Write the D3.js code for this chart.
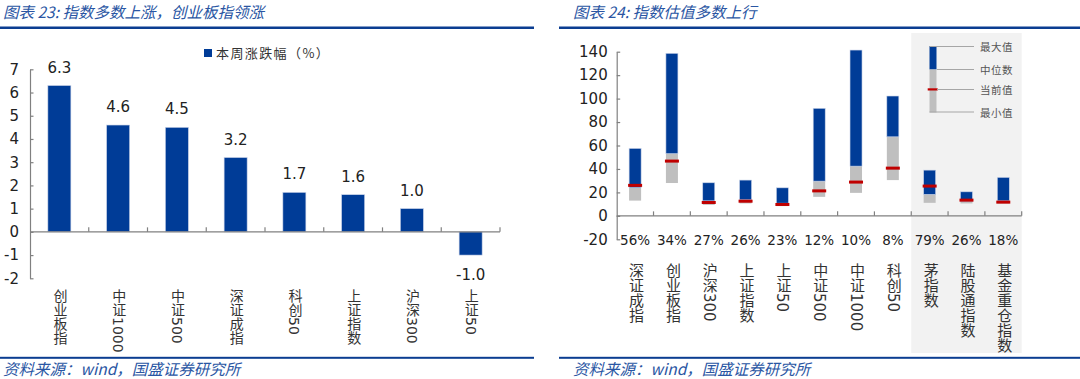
<!DOCTYPE html>
<html>
<head>
<meta charset="utf-8">
<script src="https://cdn.jsdelivr.net/npm/d3@7"></script>
<style>
  body { margin: 0; background: #fff; }
  svg text { font-family: "DejaVu Sans", sans-serif; }
  .cn { font-family: "Noto Sans CJK SC", sans-serif; }
  .vert { writing-mode: vertical-rl; font-family: "DejaVu Sans", "Noto Sans CJK SC", sans-serif; }
</style>
</head>
<body>
<svg id="chart" width="1080" height="379"></svg>
<script>
// ---- left chart data: weekly change (%)
var weekCats = ["创业板指", "中证1000", "中证500", "深证成指", "科创50", "上证指数", "沪深300", "上证50"];
var weekChg = [6.3, 4.6, 4.5, 3.2, 1.7, 1.6, 1.0, -1.0];
var weekTicks = [-2, -1, 0, 1, 2, 3, 4, 5, 6, 7];

// ---- right chart data: valuation range
var valCats = ["深证成指", "创业板指", "沪深300", "上证指数", "上证50", "中证500", "中证1000", "科创50", "茅指数", "陆股通指数", "基金重仓指数"];
var valPct = ["56%", "34%", "27%", "26%", "23%", "12%", "10%", "8%", "79%", "26%", "18%"];
var valMin = [13, 28, 9.4, 10.6, 8.3, 16.2, 19.6, 30.5, 11.1, 10.6, 10.6];
var valMed = [24, 53, 12.8, 13.7, 10.8, 29.6, 42.4, 67.4, 18.3, 12.3, 12.8];
var valMax = [57.5, 138.6, 28.2, 30.5, 23.9, 91.7, 141.4, 102.2, 39, 20.5, 32.8];
var valCur = [26, 46.7, 11.4, 12.5, 9.7, 21.3, 28.8, 40.7, 25.4, 13.4, 11.7];
var valTicks = [-20, 0, 20, 40, 60, 80, 100, 120, 140];

var BLUE = "#003c97", GREY = "#bfbfbf", RED = "#c00000", AXIS = "#808080", TITLE = "#2a56a3";

var svg = d3.select("#chart");

// titles, rules and source lines
function frame(x0, x1, tx, title) {
  svg.append("text").attr("class", "cn").attr("x", tx).attr("y", 17.5)
    .attr("font-size", 15.5).attr("font-style", "italic").attr("fill", TITLE).text(title);
  svg.append("rect").attr("x", x0).attr("y", 26.5).attr("width", x1 - x0).attr("height", 2.5).attr("fill", "#0b3d91");
  svg.append("rect").attr("x", x0).attr("y", 356.8).attr("width", x1 - x0).attr("height", 2).attr("fill", "#0b3d91");
  svg.append("text").attr("class", "cn").attr("x", tx).attr("y", 374.5)
    .attr("font-size", 15.5).attr("font-style", "italic").attr("fill", TITLE).text("资料来源：wind，国盛证券研究所");
}
frame(0, 534, 3, "图表 23: 指数多数上涨，创业板指领涨");
frame(559, 1080, 573, "图表 24: 指数估值多数上行");

// x axis along zero with upward ticks at band boundaries
function zeroAxis(x, y) {
  var g = svg.append("g");
  var r = x.range();
  g.append("line").attr("x1", r[0]).attr("x2", r[1]).attr("y1", y(0)).attr("y2", y(0))
    .attr("stroke", AXIS).attr("stroke-width", 1.2);
  var bounds = x.domain().map(function(d) { return x(d); }).slice(1).concat([r[1]]);
  g.selectAll("line.tk").data(bounds).enter().append("line").attr("class", "tk")
    .attr("x1", function(d) { return d; }).attr("x2", function(d) { return d; })
    .attr("y1", y(0)).attr("y2", y(0) - 4.5)
    .attr("stroke", AXIS).attr("stroke-width", 1.2);
}

function yAxis(xPos, y, ticks, pad) {
  var g = svg.append("g").attr("transform", "translate(" + xPos + ",0)")
    .call(d3.axisLeft(y).tickValues(ticks).tickFormat(function(d) { return String(d); })
      .tickSizeInner(-3.5).tickSizeOuter(0).tickPadding(pad));
  g.select(".domain").attr("stroke", AXIS).attr("stroke-width", 1.2);
  g.selectAll(".tick line").attr("stroke", AXIS).attr("stroke-width", 1.2);
  g.selectAll(".tick text").attr("font-size", 15).attr("fill", "#222").attr("font-family", "DejaVu Sans");
}

// ================= left chart =================
var xL = d3.scaleBand().domain(weekCats).range([30, 500]);
var yL = d3.scaleLinear().domain([-2, 7]).range([278.3, 69.3]);
var bwL = 23;

yAxis(30, yL, weekTicks, 11);

svg.append("g").selectAll("rect").data(weekChg).enter().append("rect")
  .attr("x", function(d, i) { return xL(weekCats[i]) + xL.bandwidth() / 2 - bwL / 2; })
  .attr("y", function(d) { return yL(Math.max(0, d)); })
  .attr("width", bwL)
  .attr("height", function(d) { return Math.abs(yL(d) - yL(0)); })
  .attr("fill", BLUE).attr("stroke", "#c9d3e8").attr("stroke-width", 0.6);

zeroAxis(xL, yL);

svg.append("g").selectAll("text").data(weekChg).enter().append("text")
  .attr("x", function(d, i) { return xL(weekCats[i]) + xL.bandwidth() / 2; })
  .attr("y", function(d) { return d >= 0 ? yL(d) - 13 : yL(d) + 25; })
  .attr("text-anchor", "middle").attr("font-size", 15).attr("fill", "#222")
  .text(function(d) { return d.toFixed(1); });

svg.append("g").selectAll("text").data(weekCats).enter().append("text")
  .attr("class", "vert")
  .attr("x", function(d) { return xL(d) + xL.bandwidth() / 2; })
  .attr("y", 289).attr("font-size", 14).attr("fill", "#333")
  .text(function(d) { return d; });

// legend
svg.append("rect").attr("x", 204).attr("y", 49).attr("width", 8).attr("height", 8).attr("fill", BLUE);
svg.append("text").attr("class", "cn").attr("x", 216).attr("y", 58).attr("font-size", 13)
  .attr("letter-spacing", 1.4).attr("fill", "#333").text("本周涨跌幅（%）");

// ================= right chart =================
var xR = d3.scaleBand().domain(valCats).range([616.7, 1021.7]);
var yR = d3.scaleLinear().domain([-20, 140]).range([239.3, 51.7]);
var bwR = 12;

// shaded block for the last three indices
svg.append("rect").attr("x", xR(valCats[8])).attr("y", 33)
  .attr("width", xR.range()[1] - xR(valCats[8])).attr("height", 320).attr("fill", "#f2f2f2");

yAxis(616.7, yR, valTicks, 9);

var cx = function(i) { return xR(valCats[i]) + xR.bandwidth() / 2; };
var gR = svg.append("g");
gR.selectAll("rect.lo").data(valCats).enter().append("rect").attr("class", "lo")
  .attr("x", function(d, i) { return cx(i) - bwR / 2; })
  .attr("y", function(d, i) { return yR(valMed[i]); })
  .attr("width", bwR)
  .attr("height", function(d, i) { return yR(valMin[i]) - yR(valMed[i]); })
  .attr("fill", GREY);
gR.selectAll("rect.hi").data(valCats).enter().append("rect").attr("class", "hi")
  .attr("x", function(d, i) { return cx(i) - bwR / 2; })
  .attr("y", function(d, i) { return yR(valMax[i]); })
  .attr("width", bwR)
  .attr("height", function(d, i) { return yR(valMed[i]) - yR(valMax[i]); })
  .attr("fill", BLUE).attr("stroke", "#c9d3e8").attr("stroke-width", 0.6);
gR.selectAll("rect.cur").data(valCur).enter().append("rect").attr("class", "cur")
  .attr("x", function(d, i) { return cx(i) - bwR / 2 - 1; })
  .attr("y", function(d) { return yR(d) - 1.5; })
  .attr("width", bwR + 2).attr("height", 3)
  .attr("fill", RED);

zeroAxis(xR, yR);

svg.append("g").selectAll("text").data(valPct).enter().append("text")
  .attr("x", function(d, i) { return cx(i); })
  .attr("y", 244.5).attr("text-anchor", "middle").attr("font-size", 13.5).attr("fill", "#222")
  .text(function(d) { return d; });

svg.append("g").selectAll("text").data(valCats).enter().append("text")
  .attr("class", "vert")
  .attr("x", function(d, i) { return cx(i); })
  .attr("y", 263).attr("font-size", 15).attr("fill", "#333")
  .text(function(d) { return d; });

// schematic legend
var lg = svg.append("g");
lg.append("rect").attr("x", 929.5).attr("y", 46).attr("width", 7).attr("height", 23.5).attr("fill", BLUE);
lg.append("rect").attr("x", 929.5).attr("y", 69.5).attr("width", 7).attr("height", 43).attr("fill", GREY);
lg.append("rect").attr("x", 927.7).attr("y", 88.3).attr("width", 10).attr("height", 2.2).attr("fill", RED);
var lgRows = [[46.5, "最大值"], [69.5, "中位数"], [89.5, "当前值"], [112, "最小值"]];
lg.selectAll("line").data(lgRows).enter().append("line")
  .attr("x1", function(d, i) { return i === 0 || i === 3 ? 929.5 : 937; }).attr("x2", 974)
  .attr("y1", function(d) { return d[0]; }).attr("y2", function(d) { return d[0]; })
  .attr("stroke", "#a6a6a6").attr("stroke-width", 1);
lg.selectAll("text").data(lgRows).enter().append("text").attr("class", "cn")
  .attr("x", 980).attr("y", function(d) { return d[0] + 4.5; })
  .attr("font-size", 10.5).attr("letter-spacing", 0.5).attr("fill", "#555")
  .text(function(d) { return d[1]; });
</script>
</body>
</html>
